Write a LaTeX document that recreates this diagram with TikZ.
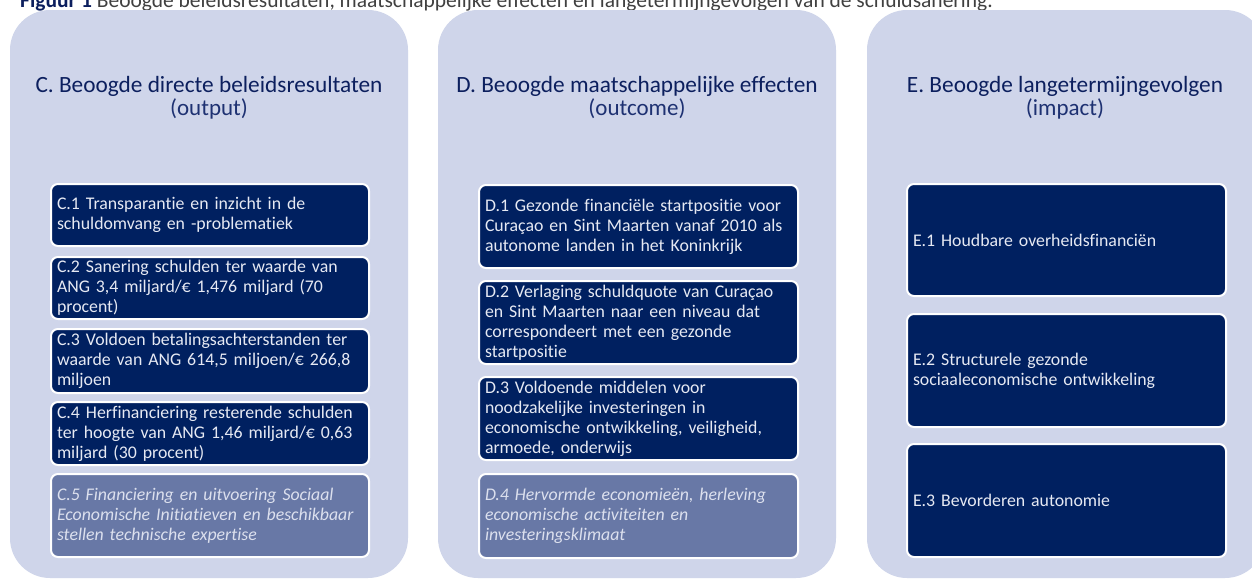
\documentclass[tikz,border=0pt]{standalone}
\usepackage{fontspec}
\setmainfont{Carlito}[Ligatures=CommonOff]
\definecolor{panelbg}{HTML}{CFD5EA}
\definecolor{navy}{HTML}{002060}
\definecolor{lightbox}{HTML}{6878A6}
\definecolor{headtxt}{HTML}{0C1F5E}
\definecolor{subtxt}{HTML}{1E3172}
\definecolor{boxtxt}{HTML}{E6E9F3}
\definecolor{ltxt}{HTML}{DCE0EE}
\definecolor{titletxt}{HTML}{404040}
\definecolor{titlebold}{HTML}{0C1F5E}
\tikzset{
  panel/.style={fill=panelbg, rounded corners=40pt},
  itembox/.style={fill=navy, draw=white, line width=2pt, rounded corners=7pt,
    anchor=north west, inner xsep=6pt, inner ysep=0pt, align=left,
    text=boxtxt, font=\fontsize{17.8}{20}\selectfont},
  lightitem/.style={itembox, fill=lightbox, text=ltxt, font=\fontsize{17.8}{20}\selectfont\itshape},
  headtext/.style={anchor=base, text=headtxt, font=\fontsize{23.3}{26}\selectfont, inner sep=0pt},
  subtext/.style={anchor=base, text=subtxt, font=\fontsize{23}{26}\selectfont, inner sep=0pt},
}
\begin{document}
\begin{tikzpicture}[x=1pt,y=-1pt]
\useasboundingbox (0,0) rectangle (1252,579);
\clip (0,0) rectangle (1252,579);
\fill[white] (0,0) rectangle (1252,579);
% title (cut off at top)
\node[anchor=base west, inner sep=0pt, text=titletxt, font=\fontsize{21.5}{24}\selectfont] (title) at (20,7)
  {\textcolor{titlebold}{\textbf{Figuur 1}} Beoogde beleidsresultaten, maatschappelijke effecten en langetermijngevolgen van de schuldsanering.};
% panels
\fill[panel] (10,10) rectangle (408,578);
\fill[panel] (438,10) rectangle (836,578);
\fill[panel] (867,10) rectangle (1265,578);
% headers
\node[headtext] (hC) at (209,92) {C. Beoogde directe beleidsresultaten};
\node[subtext] (sC) at (209,115) {(output)};
\node[headtext] (hD) at (637,92) {D. Beoogde maatschappelijke effecten};
\node[subtext] (sD) at (637,115) {(outcome)};
\node[headtext] (hE) at (1065,92) {E. Beoogde langetermijngevolgen};
\node[subtext] (sE) at (1065,115) {(impact)};
% C boxes
\node[itembox, text width=306pt, minimum height=62pt] (c1) at (50,183)
  {C.1 Transparantie en inzicht in de\\schuldomvang en -problematiek};
\node[itembox, text width=306pt, minimum height=62pt] (c2) at (50,256)
  {C.2 Sanering schulden ter waarde van\\ANG 3,4 miljard/€ 1,476 miljard (70\\procent)};
\node[itembox, text width=306pt, minimum height=64pt] (c3) at (50,328)
  {C.3 Voldoen betalingsachterstanden ter\\waarde van ANG 614,5 miljoen/€ 266,8\\miljoen};
\node[itembox, text width=306pt, minimum height=63pt] (c4) at (50,401)
  {C.4 Herfinanciering resterende schulden\\ter hoogte van ANG 1,46 miljard/€ 0,63\\miljard (30 procent)};
\node[lightitem, text width=306pt, minimum height=83pt] (c5) at (50,473)
  {C.5 Financiering en uitvoering Sociaal\\Economische Initiatieven en beschikbaar\\stellen technische expertise};
% D boxes
\node[itembox, text width=307pt, minimum height=83pt] (d1) at (478,184)
  {D.1 Gezonde financiële startpositie voor\\Curaçao en Sint Maarten vanaf 2010 als\\autonome landen in het Koninkrijk};
\node[itembox, text width=307pt, minimum height=83pt] (d2) at (478,280)
  {D.2 Verlaging schuldquote van Curaçao\\en Sint Maarten naar een niveau dat\\correspondeert met een gezonde\\startpositie};
\node[itembox, text width=307pt, minimum height=83pt] (d3) at (478,376)
  {D.3 Voldoende middelen voor\\noodzakelijke investeringen in\\economische ontwikkeling, veiligheid,\\armoede, onderwijs};
\node[lightitem, text width=307pt, minimum height=84pt] (d4) at (478,473)
  {D.4 Hervormde economieën, herleving\\economische activiteiten en\\investeringsklimaat};
% E boxes
\node[itembox, text width=307pt, minimum height=112pt] (e1) at (906,183)
  {E.1 Houdbare overheidsfinanciën};
\node[itembox, text width=307pt, minimum height=113pt] (e2) at (906,313)
  {E.2 Structurele gezonde\\sociaaleconomische ontwikkeling};
\node[itembox, text width=307pt, minimum height=113pt] (e3) at (906,443)
  {E.3 Bevorderen autonomie};
\end{tikzpicture}
\end{document}
